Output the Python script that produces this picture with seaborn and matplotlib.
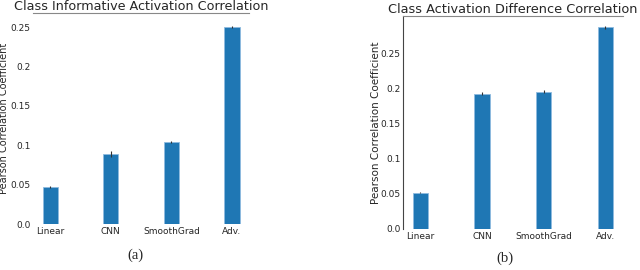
import numpy as np
import pandas as pd
import seaborn as sns
import matplotlib
matplotlib.use("Agg")
import matplotlib.pyplot as plt

methods = ["Linear", "CNN", "SmoothGrad", "Adv."]
informative_corr = [0.047, 0.089, 0.104, 0.250]
informative_err = [0.001, 0.004, 0.001, 0.001]
difference_corr = [0.052, 0.193, 0.196, 0.288]
difference_err = [0.001, 0.002, 0.002, 0.002]
tick_values = [0.0, 0.05, 0.1, 0.15, 0.2, 0.25]
tick_labels = ["0.0", "0.05", "0.1", "0.15", "0.2", "0.25"]

sns.set_style("white")
plt.rcParams["font.family"] = ["DejaVu Sans"]

fig = plt.figure(figsize=(6.4, 2.7), dpi=100)
ax_a = fig.add_axes([0.052, 0.170, 0.337, 0.782])
ax_b = fig.add_axes([0.630, 0.152, 0.343, 0.789])


def draw_panel(ax, values, errors, title, ylim, show_left, label_size, label_x, title_size):
    df = pd.DataFrame({"method": methods, "corr": values})
    sns.barplot(data=df, x="method", y="corr", ax=ax, color="#1f77b4",
                saturation=1, width=0.25, edgecolor="#8fbbe0", linewidth=0.6,
                errorbar=None)
    ax.errorbar(np.arange(len(methods)), values, yerr=errors, fmt="none",
                ecolor="#333333", elinewidth=0.8, capsize=0)
    ax.set_xlim(-0.28, 3.28)
    ax.set_ylim(*ylim)
    ax.set_yticks(tick_values)
    ax.set_yticklabels(tick_labels)
    ax.tick_params(axis="both", length=0, labelsize=6.5, pad=2)
    ax.set_xlabel("")
    ax.set_ylabel("Pearson Correlation Coefficient", fontsize=label_size)
    ax.yaxis.set_label_coords(label_x, 0.5)
    ax.set_title(title, fontsize=title_size, pad=2)
    for side in ["right", "bottom"]:
        ax.spines[side].set_visible(False)
    ax.spines["top"].set_color("#888888")
    ax.spines["top"].set_linewidth(0.8)
    ax.spines["left"].set_visible(show_left)
    ax.spines["left"].set_color("#444444")
    ax.spines["left"].set_linewidth(0.8)


draw_panel(ax_a, informative_corr, informative_err,
           "Class Informative Activation Correlation", (0, 0.268), False,
           7.0, -0.114, 9.2)
draw_panel(ax_b, difference_corr, difference_err,
           "Class Activation Difference Correlation", (0, 0.304), True,
           7.5, -0.102, 9.3)

fig.text(0.211, 0.056, "(a)", fontsize=10.5, family="Liberation Serif",
         ha="center", va="center")
fig.text(0.789, 0.044, "(b)", fontsize=10.5, family="Liberation Serif",
         ha="center", va="center")

fig.savefig("out.png", dpi=100)
